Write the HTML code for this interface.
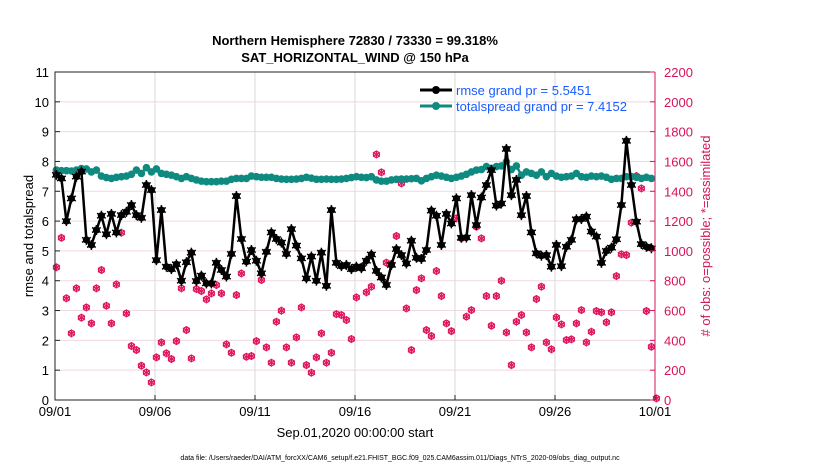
<!DOCTYPE html>
<html><head><meta charset="utf-8"><style>
body{margin:0;background:#fff;width:830px;height:470px;overflow:hidden;font-family:"Liberation Sans",sans-serif}
svg text{font-family:"Liberation Sans",sans-serif}
</style></head><body>
<svg id="chart" width="830" height="470" xmlns="http://www.w3.org/2000/svg">
<text x="355" y="45" text-anchor="middle" font-size="13" font-weight="bold">Northern Hemisphere 72830 / 73330 = 99.318%</text>
<text x="355" y="62" text-anchor="middle" font-size="13" font-weight="bold">SAT_HORIZONTAL_WIND @ 150 hPa</text>
<g id="grid"></g><g id="obs"></g><g id="lines"></g><g id="axes"></g>
<text transform="translate(33,236) rotate(-90)" text-anchor="middle" font-size="13">rmse and totalspread</text>
<text transform="translate(710,236) rotate(-90)" text-anchor="middle" font-size="13" fill="#d6145a"># of obs: o=possible; *=assimilated</text>
<text x="355" y="437" text-anchor="middle" font-size="13">Sep.01,2020 00:00:00 start</text>
<text x="400" y="460" text-anchor="middle" font-size="7">data file: /Users/raeder/DAI/ATM_forcXX/CAM6_setup/f.e21.FHIST_BGC.f09_025.CAM6assim.011/Diags_NTrS_2020-09/obs_diag_output.nc</text>
<g>
<line x1="420" y1="90" x2="452" y2="90" stroke="#000" stroke-width="3"/><circle cx="436" cy="90" r="4" fill="#000"/>
<text x="456" y="95" font-size="13" fill="#1a5cff">rmse grand pr = 5.5451</text>
<line x1="420" y1="106" x2="452" y2="106" stroke="#0f8a80" stroke-width="3"/><circle cx="436" cy="106" r="4" fill="#0f8a80"/>
<text x="456" y="111" font-size="13" fill="#1a5cff">totalspread grand pr = 7.4152</text>
</g>
</svg>
<script>
const xTickLabels=["09/01","09/06","09/11","09/16","09/21","09/26","10/01"];
const xTickDays=[0,5,10,15,20,25,30];
const yTicks=[0,1,2,3,4,5,6,7,8,9,10,11];
const y2Ticks=[0,200,400,600,800,1000,1200,1400,1600,1800,2000,2200];
const rmse=[7.55,7.43,6.0,6.76,7.49,7.66,5.37,5.2,5.7,6.18,5.56,6.24,5.62,6.2,6.31,6.54,6.2,6.11,7.21,7.04,4.69,6.37,4.47,4.39,4.55,4.0,4.62,4.94,3.99,4.17,3.91,
3.91,4.6,4.36,4.14,4.9,6.84,5.4,4.64,5.03,4.67,4.25,4.97,5.62,5.4,5.28,4.9,5.73,5.18,4.75,4.08,4.81,4.0,4.94,3.83,6.37,4.6,4.49,4.53,4.39,4.47,
4.42,4.67,4.88,4.33,4.11,3.86,4.53,5.06,4.86,4.58,5.34,4.77,4.73,5.03,6.35,6.18,5.2,6.24,5.92,6.76,5.44,5.45,6.87,5.87,6.79,7.21,7.71,6.52,6.59,8.42,
6.87,7.38,6.2,6.84,5.62,4.92,4.84,4.86,4.47,5.2,4.49,5.14,5.37,6.06,6.07,6.15,5.65,5.48,4.6,5.0,5.11,5.39,6.54,8.69,7.21,5.98,5.23,5.14,5.09];
const spread=[7.71,7.69,7.69,7.68,7.71,7.76,7.75,7.65,7.71,7.51,7.46,7.43,7.47,7.49,7.51,7.57,7.71,7.6,7.79,7.65,7.75,7.6,7.57,7.54,7.49,7.43,7.49,7.43,7.38,7.34,7.32,
7.32,7.32,7.34,7.34,7.4,7.43,7.43,7.43,7.51,7.49,7.47,7.47,7.47,7.43,7.41,7.4,7.4,7.41,7.43,7.47,7.44,7.4,7.4,7.41,7.4,7.4,7.41,7.43,7.46,7.49,
7.47,7.46,7.49,7.38,7.34,7.34,7.38,7.4,7.41,7.41,7.42,7.43,7.35,7.43,7.49,7.54,7.51,7.47,7.43,7.47,7.51,7.57,7.65,7.71,7.73,7.83,7.77,7.83,7.85,7.99,
7.73,7.85,7.54,7.65,7.6,7.54,7.65,7.49,7.6,7.51,7.47,7.49,7.51,7.6,7.49,7.47,7.51,7.49,7.51,7.47,7.4,7.43,7.43,7.49,7.49,7.47,7.43,7.47,7.43];
const obsCounts=[890,1088,682,447,749,552,621,514,749,872,632,514,775,1122,581,362,335,230,185,118,286,386,313,275,395,749,469,279,744,731,675,
715,771,715,373,317,704,849,290,295,395,805,353,250,525,599,353,250,420,621,234,183,286,447,250,317,576,570,536,409,688,
894,722,760,1647,1527,921,910,1100,1453,614,335,737,816,469,429,865,697,514,462,1218,1084,559,603,1162,1084,697,498,697,800,453,
234,525,570,453,353,677,760,386,340,554,507,402,407,514,603,386,458,597,588,521,588,831,977,972,1189,1502,1419,597,357,11];
const L=55,R=655,T=72,B=400;
const xs=d=>L+d*(R-L)/30;
const ys=v=>B-v*(B-T)/11;
const y2=v=>B-v*(B-T)/2200;
const dayOf=i=>0.07+i*0.25;
const NS="http://www.w3.org/2000/svg";
function mk(parent,tag,attrs){const e=document.createElementNS(NS,tag);for(const k in attrs)e.setAttribute(k,attrs[k]);(typeof parent==='string'?document.getElementById(parent):parent).appendChild(e);return e;}
function star(g,x,y,r,color,w){[[0,1],[0.87,0.5],[0.87,-0.5]].forEach(([a,b])=>mk(g,'line',{x1:x-a*r,y1:y-b*r,x2:x+a*r,y2:y+b*r,stroke:color,'stroke-width':w}));}
// grid
yTicks.forEach(v=>{if(v>0&&v<11){const g=mk('grid','line',{x1:L,x2:R,y1:ys(v),y2:ys(v),stroke:'#f0d8e0','stroke-width':1});

}});
xTickDays.forEach(d=>{if(d>0&&d<30){const g=mk('grid','line',{x1:xs(d),x2:xs(d),y1:T,y2:B,stroke:'#d8d8d8','stroke-width':1});

}});
// obs
obsCounts.forEach((c,i)=>{const x=xs(dayOf(i)),y=y2(c);
const g=mk('obs','g',{});


mk(g,'circle',{cx:x,cy:y,r:3,fill:'none',stroke:'#e0175f','stroke-width':1.3});
star(g,x,y,4,'#e0175f',1.3);});
// lines
function series(vals,color,name,isStar){let d='';vals.forEach((v,i)=>{d+=(i?'L':'M')+xs(dayOf(i)).toFixed(1)+','+ys(v).toFixed(1);});
const p=mk('lines','path',{d:d,fill:'none',stroke:color,'stroke-width':2.5,'stroke-linejoin':'round'});


vals.forEach((v,i)=>{const g=mk('lines','g',{});


mk(g,'circle',{cx:xs(dayOf(i)),cy:ys(v),r:isStar?3.6:3.8,fill:color});
if(isStar)star(g,xs(dayOf(i)),ys(v),5,color,1.5);});}
series(spread,'#0f8a80','totalspread',false);
series(rmse,'#000','rmse',true);
// axes
const ax=mk('axes','path',{d:`M${R},${T}H${L}V${B}H${R}`,fill:'none',stroke:'#222','stroke-width':1});


const ra=mk('axes','line',{x1:R,x2:R,y1:T,y2:B,stroke:'#d6145a','stroke-width':1});


yTicks.forEach(v=>{const t=mk('axes','text',{x:L-6,y:ys(v)+5,'text-anchor':'end','font-size':13});t.textContent=v;


mk('axes','line',{x1:L,x2:L+5,y1:ys(v),y2:ys(v),stroke:'#222'});});
y2Ticks.forEach(v=>{const t=mk('axes','text',{x:R+9,y:y2(v)+5,'font-size':13,fill:'#d6145a'});t.textContent=v;


mk('axes','line',{x1:R-5,x2:R,y1:y2(v),y2:y2(v),stroke:'#d6145a'});});
xTickDays.forEach((d,i)=>{const t=mk('axes','text',{x:xs(d),y:416,'text-anchor':'middle','font-size':13});t.textContent=xTickLabels[i];


mk('axes','line',{x1:xs(d),x2:xs(d),y1:B,y2:B-5,stroke:'#222'});});
</script>
</body></html>
